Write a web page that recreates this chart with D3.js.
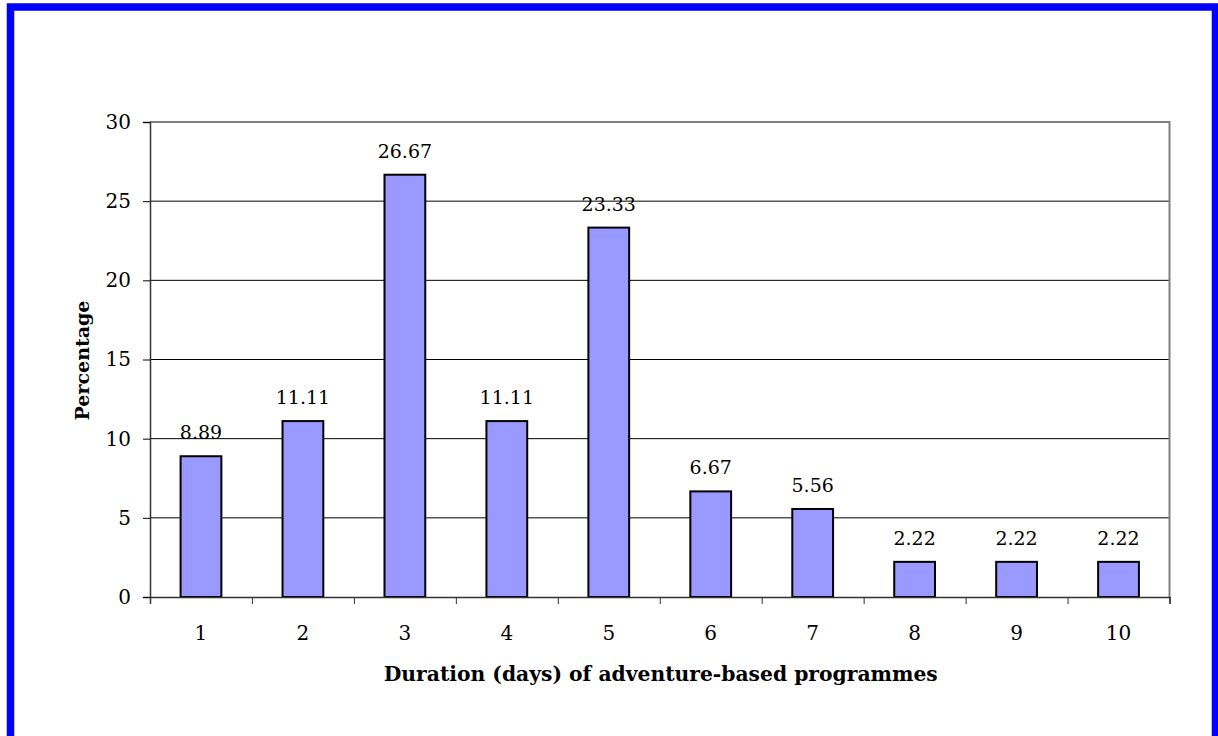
<!DOCTYPE html>
<html>
<head>
<meta charset="utf-8">
<script src="https://cdn.jsdelivr.net/npm/d3@7"></script>
<style>
  html, body { margin: 0; padding: 0; background: #fff; }
  svg { display: block; }
  text { font-family: "DejaVu Serif", Georgia, serif; fill: #000; }
</style>
</head>
<body>
<svg id="chart" width="1218" height="736"></svg>
<script>
// Duration of adventure-based programmes (days) and share of programmes (%)
const days = ["1", "2", "3", "4", "5", "6", "7", "8", "9", "10"];
const percentages = [8.89, 11.11, 26.67, 11.11, 23.33, 6.67, 5.56, 2.22, 2.22, 2.22];
const yTicks = [0, 5, 10, 15, 20, 25, 30];
const xTitle = "Duration (days) of adventure-based programmes";
const yTitle = "Percentage";

const svg = d3.select("#chart");
const plot = { left: 150, right: 1169.5, top: 122, bottom: 597 };

// Outer blue frame
svg.append("rect")
  .attr("x", 10.5).attr("y", 7)
  .attr("width", 1205).attr("height", 800)
  .attr("fill", "none")
  .attr("stroke", "#0000ff")
  .attr("stroke-width", 7.5);

const x = d3.scaleBand()
  .domain(days)
  .range([plot.left, plot.right])
  .paddingInner(0.6)
  .paddingOuter(0.3);

const xEdges = d3.scaleLinear()
  .domain([0, days.length])
  .range([plot.left, plot.right]);

const y = d3.scaleLinear()
  .domain([0, 30])
  .range([plot.bottom, plot.top]);

// Horizontal gridlines
svg.append("g")
  .selectAll("line")
  .data(yTicks.filter(t => t > 0 && t < 30))
  .join("line")
  .attr("x1", plot.left).attr("x2", plot.right)
  .attr("y1", d => y(d)).attr("y2", d => y(d))
  .attr("stroke", "#000")
  .attr("stroke-width", 1);

// Plot frame: top and right edges
svg.append("path")
  .attr("d", `M${plot.left},${y(30)}H${plot.right}V${plot.bottom}`)
  .attr("fill", "none")
  .attr("stroke", "#808080")
  .attr("stroke-width", 2);

// Bars
svg.append("g")
  .selectAll("rect")
  .data(percentages)
  .join("rect")
  .attr("x", (d, i) => x(days[i]))
  .attr("y", d => y(d))
  .attr("width", x.bandwidth())
  .attr("height", d => y(0) - y(d))
  .attr("fill", "#9999ff")
  .attr("stroke", "#000")
  .attr("stroke-width", 2);

// Value labels
svg.append("g")
  .selectAll("text")
  .data(percentages)
  .join("text")
  .attr("x", (d, i) => x(days[i]) + x.bandwidth() / 2)
  .attr("y", d => y(d) - 17)
  .attr("text-anchor", "middle")
  .style("font-size", "19px")
  .text(d => d.toFixed(2));

// Y axis
const yAxis = svg.append("g")
  .attr("transform", `translate(${plot.left},0)`)
  .call(d3.axisLeft(y).tickValues(yTicks).tickSize(7).tickPadding(12).tickFormat(d3.format("d")));
yAxis.select(".domain").attr("stroke", "#333").attr("stroke-width", 1.5);
yAxis.selectAll(".tick line").attr("stroke", "#000");
yAxis.selectAll(".tick text").style("font-size", "20px").attr("font-family", null);

// X axis: boundary ticks
const xAxisEdges = svg.append("g")
  .attr("transform", `translate(0,${plot.bottom})`)
  .call(d3.axisBottom(xEdges).tickValues(d3.range(days.length + 1)).tickSize(7).tickFormat(""));
xAxisEdges.select(".domain").attr("stroke", "#333").attr("stroke-width", 1.5);
xAxisEdges.selectAll(".tick line").attr("stroke", "#333");

// X axis: category labels
const xAxis = svg.append("g")
  .attr("transform", `translate(0,${plot.bottom})`)
  .call(d3.axisBottom(x).tickSize(0).tickPadding(29));
xAxis.select(".domain").remove();
xAxis.selectAll(".tick text").style("font-size", "20px").attr("font-family", null);

// Axis titles
svg.append("text")
  .attr("x", (plot.left + plot.right) / 2 + 1)
  .attr("y", 681)
  .attr("text-anchor", "middle")
  .style("font-size", "20.3px")
  .style("font-weight", "bold")
  .text(xTitle);

svg.append("text")
  .attr("transform", `translate(89,${(plot.top + plot.bottom) / 2 + 1}) rotate(-90)`)
  .attr("text-anchor", "middle")
  .style("font-size", "19px")
  .style("font-weight", "bold")
  .text(yTitle);
</script>
</body>
</html>
